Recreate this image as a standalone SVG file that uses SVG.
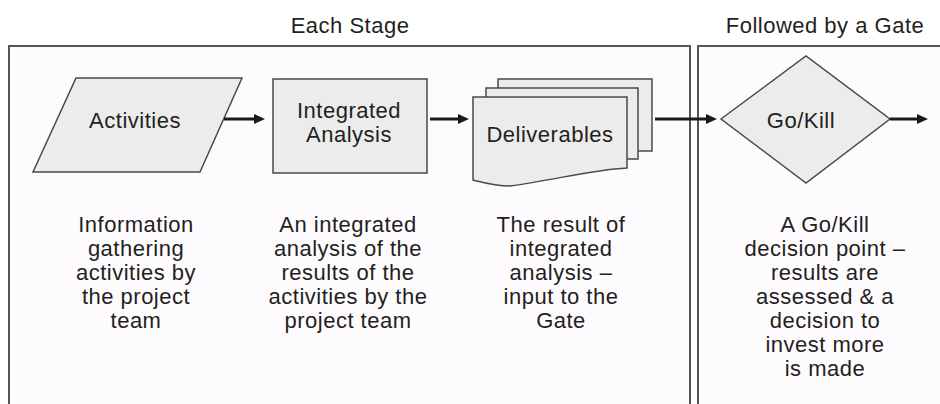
<svg xmlns="http://www.w3.org/2000/svg" width="940" height="404" viewBox="0 0 940 404">
  <defs>
    <style>
      text { font-family: "Liberation Sans", Arial, sans-serif; font-size: 22px; letter-spacing: 0.5px; fill: #231f20; text-anchor: middle; }
      .frame { fill: none; stroke: #555555; stroke-width: 2; }
      .panel { fill: #fefbfe; stroke: none; }
      .shape { fill: #ececec; stroke: #4a4a4a; stroke-width: 1.5; stroke-linejoin: miter; }
      .flow { fill: none; stroke: #1a1a1a; stroke-width: 3; marker-end: url(#head); }
    </style>
    <marker id="head" markerUnits="userSpaceOnUse" markerWidth="11" markerHeight="10" refX="3" refY="5" orient="auto">
      <path d="M0,0 L11,5 L0,10 Z" fill="#1a1a1a"/>
    </marker>
  </defs>

  <rect width="940" height="404" fill="#ffffff"/>

  <!-- stage and gate panels -->
  <g id="stage-panel">
    <rect class="panel" x="9" y="46" width="681" height="358"/>
    <path class="frame" d="M9,404 V46 H690 V404"/>
    <text x="350" y="33">Each Stage</text>
  </g>
  <g id="gate-panel">
    <rect class="panel" x="698" y="46" width="242" height="358"/>
    <path class="frame" d="M698,404 V46 H941"/>
    <text x="825" y="33">Followed by a Gate</text>
  </g>

  <!-- activities -->
  <g id="activities">
    <polygon class="shape" points="76,78 242,78 200,172 33,172"/>
    <text x="135" y="128">Activities</text>
  </g>

  <!-- integrated analysis -->
  <g id="integrated-analysis">
    <rect class="shape" x="273" y="79" width="154" height="94"/>
    <text x="349" y="118">Integrated</text>
    <text x="349" y="142">Analysis</text>
  </g>

  <!-- stacked deliverables document -->
  <g id="deliverables">
    <rect class="shape" x="498" y="79" width="154" height="72"/>
    <rect class="shape" x="486" y="88" width="152" height="71"/>
    <path class="shape" d="M473,97 H627 V168 C590,170 555,180 510,186 C495,186 485,183 473,180 Z"/>
    <text x="550" y="142">Deliverables</text>
  </g>

  <!-- go/kill decision -->
  <g id="go-kill">
    <polygon class="shape" points="721,119 806,56 890,119 806,183"/>
    <text x="801" y="128">Go/Kill</text>
  </g>

  <!-- descriptions -->
  <g id="desc-activities">
    <text x="136" y="232">Information</text>
    <text x="136" y="256">gathering</text>
    <text x="136" y="280">activities by</text>
    <text x="136" y="304">the project</text>
    <text x="136" y="328">team</text>
  </g>
  <g id="desc-analysis">
    <text x="348" y="232">An integrated</text>
    <text x="348" y="256">analysis of the</text>
    <text x="348" y="280">results of the</text>
    <text x="348" y="304">activities by the</text>
    <text x="348" y="328">project team</text>
  </g>
  <g id="desc-deliverables">
    <text x="561" y="232">The result of</text>
    <text x="561" y="256">integrated</text>
    <text x="561" y="280">analysis –</text>
    <text x="561" y="304">input to the</text>
    <text x="561" y="328">Gate</text>
  </g>
  <g id="desc-gate">
    <text x="825" y="232">A Go/Kill</text>
    <text x="825" y="256">decision point –</text>
    <text x="825" y="280">results are</text>
    <text x="825" y="304">assessed &amp; a</text>
    <text x="825" y="328">decision to</text>
    <text x="825" y="352">invest more</text>
    <text x="825" y="376">is made</text>
  </g>

  <!-- connectors -->
  <g id="connectors">
    <line class="flow" x1="224" y1="119" x2="257" y2="119"/>
    <line class="flow" x1="430" y1="119" x2="461" y2="119"/>
    <line class="flow" x1="655" y1="119" x2="709" y2="119"/>
    <line class="flow" x1="890" y1="119" x2="920" y2="119"/>
  </g>
</svg>
